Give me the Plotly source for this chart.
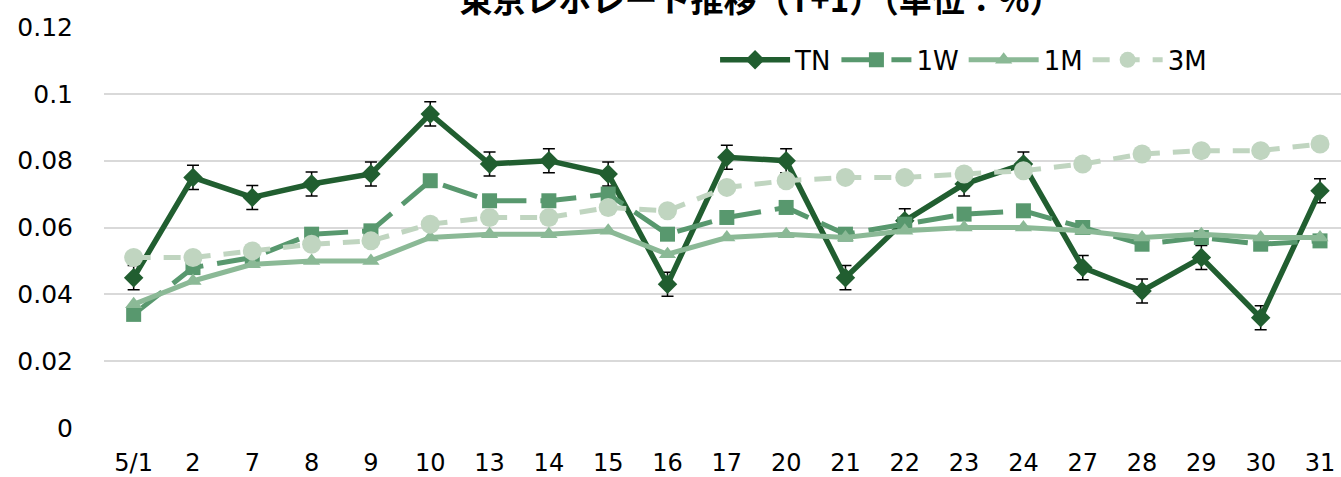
import plotly.graph_objects as go

categories = ["5/1", "2", "7", "8", "9", "10", "13", "14", "15", "16", "17",
              "20", "21", "22", "23", "24", "27", "28", "29", "30", "31"]
tn = [0.045, 0.075, 0.069, 0.073, 0.076, 0.094, 0.079, 0.080, 0.076, 0.043, 0.081,
      0.080, 0.045, 0.062, 0.073, 0.079, 0.048, 0.041, 0.051, 0.033, 0.071]
w1 = [0.034, 0.048, 0.051, 0.058, 0.059, 0.074, 0.068, 0.068, 0.070, 0.058, 0.063,
      0.066, 0.058, 0.061, 0.064, 0.065, 0.060, 0.055, 0.057, 0.055, 0.056]
m1 = [0.037, 0.044, 0.049, 0.050, 0.050, 0.057, 0.058, 0.058, 0.059, 0.052, 0.057,
      0.058, 0.057, 0.059, 0.060, 0.060, 0.059, 0.057, 0.058, 0.057, 0.057]
m3 = [0.051, 0.051, 0.053, 0.055, 0.056, 0.061, 0.063, 0.063, 0.066, 0.065, 0.072,
      0.074, 0.075, 0.075, 0.076, 0.077, 0.079, 0.082, 0.083, 0.083, 0.085]
tn_err = 0.0036
y_ticks = [0, 0.02, 0.04, 0.06, 0.08, 0.1, 0.12]
y_tick_labels = ["0", "0.02", "0.04", "0.06", "0.08", "0.1", "0.12"]
title_text = "東京レポレート推移（T+1）（単位：%）"

C_TN = "#215E30"
C_1W = "#58986E"
C_1M = "#8BB996"
C_3M = "#C0D5C0"
FONT = "DejaVu Sans"

fig = go.Figure()
fig.add_trace(go.Scatter(
    x=categories, y=tn, name="TN", mode="lines+markers",
    line=dict(color=C_TN, width=5.5),
    marker=dict(symbol="diamond", size=15, color=C_TN),
    error_y=dict(type="constant", value=tn_err, color="black", thickness=1.5, width=6),
))
fig.add_trace(go.Scatter(
    x=categories, y=w1, name="1W", mode="lines+markers",
    line=dict(color=C_1W, width=5, dash="36px,14px"),
    marker=dict(symbol="square", size=15, color=C_1W),
))
fig.add_trace(go.Scatter(
    x=categories, y=m1, name="1M", mode="lines+markers",
    line=dict(color=C_1M, width=5),
    marker=dict(symbol="triangle-up", size=15, color=C_1M),
))
fig.add_trace(go.Scatter(
    x=categories, y=m3, name="3M", mode="lines+markers",
    line=dict(color=C_3M, width=5, dash="17px,13px"),
    marker=dict(symbol="circle", size=19, color=C_3M),
))

fig.update_layout(
    width=1341, height=477,
    margin=dict(l=104, r=0, t=27, b=49, autoexpand=False),
    paper_bgcolor="white", plot_bgcolor="white",
    font=dict(family=FONT, size=24, color="black"),
    title=dict(text=title_text, x=0.5675, xanchor="center", y=1.0, yanchor="middle",
               yref="container",
               font=dict(family="Noto Sans CJK JP", size=33, color="black", weight="bold")),
    showlegend=True,
    legend=dict(orientation="h", x=0.494, xanchor="left", y=0.918, yanchor="middle",
                font=dict(family=FONT, size=26), bgcolor="rgba(0,0,0,0)",
                itemwidth=70, traceorder="normal"),
)
fig.update_xaxes(
    type="category", range=[-0.5, 20.354], showgrid=False, showline=False,
    zeroline=False, ticks="", ticklabelstandoff=18, automargin=False,
    tickfont=dict(family=FONT, size=24),
)
fig.update_yaxes(
    range=[0, 0.12], tickvals=y_ticks, ticktext=y_tick_labels,
    showgrid=True, gridcolor="#D9D9D9", gridwidth=2, zeroline=False, showline=False,
    ticks="", ticklabelstandoff=30, automargin=False,
    tickfont=dict(family=FONT, size=25),
)

fig.write_html("out.html", config={"displayModeBar": False},
               post_script="document.body.style.margin='0';document.body.style.overflow='hidden';")
